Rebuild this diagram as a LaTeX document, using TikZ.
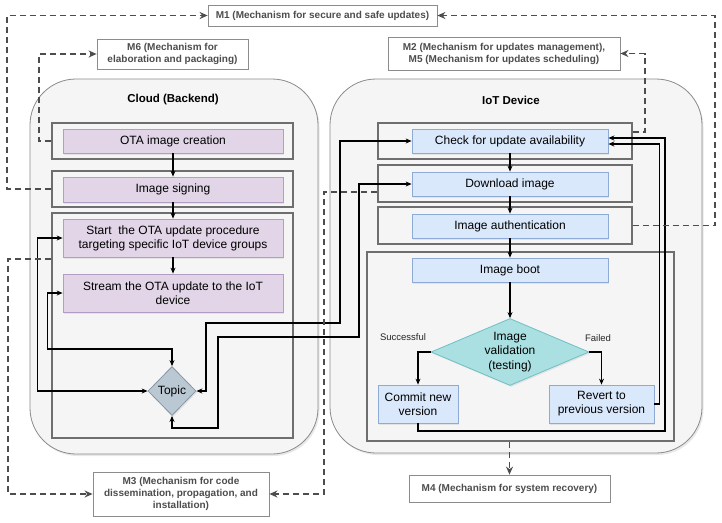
\documentclass[tikz,border=0pt]{standalone}
\usepackage{fontspec}
\setmainfont{Liberation Sans}
\usetikzlibrary{arrows.meta,shapes.geometric,shadows,calc}
\definecolor{cBg}{HTML}{F5F5F5}
\definecolor{cBorder}{HTML}{8A8A8A}
\definecolor{gBorder}{HTML}{6E6E6E}
\definecolor{pFill}{HTML}{E1D5E7}
\definecolor{pStroke}{HTML}{B39DC2}
\definecolor{bFill}{HTML}{DAE8FC}
\definecolor{bStroke}{HTML}{8EABD6}
\definecolor{tFill}{HTML}{BAC8D3}
\definecolor{tStroke}{HTML}{8595A3}
\definecolor{vFill}{HTML}{ABE0E2}
\definecolor{vStroke}{HTML}{6FBFC3}
\definecolor{mBorder}{HTML}{8C8C8C}
\definecolor{mText}{HTML}{4D4D4D}
\definecolor{dGray}{HTML}{4D4D4D}
\begin{document}
\begin{tikzpicture}[x=1pt,y=-1pt,
  container/.style={draw=cBorder, fill=cBg, rounded corners=46pt, line width=0.8pt,
    drop shadow={opacity=0.18, shadow xshift=1.5pt, shadow yshift=-2pt}},
  grp/.style={draw=gBorder, line width=1.7pt, inner sep=0},
  pbox/.style={draw=pStroke, fill=pFill, line width=0.8pt, font=\fontsize{12}{14}\selectfont,
    align=center, inner sep=0,
    drop shadow={opacity=0.15, shadow xshift=1.2pt, shadow yshift=-1.5pt}},
  bbox/.style={draw=bStroke, fill=bFill, line width=0.8pt, font=\fontsize{12}{14}\selectfont,
    align=center, inner sep=0,
    drop shadow={opacity=0.15, shadow xshift=1.2pt, shadow yshift=-1.5pt}},
  mech/.style={draw=mBorder, fill=white, line width=0.8pt, font=\bfseries\fontsize{10}{12}\selectfont,
    text=mText, align=center, inner sep=0},
  ttl/.style={font=\bfseries\fontsize{11.5}{14}\selectfont},
  lbl/.style={font=\fontsize{9.5}{11}\selectfont, text=black!85},
  dsh/.style={draw=dGray, line width=1.8pt, dash pattern=on 6pt off 4pt,
    -{Stealth[length=8pt,width=7pt]}},
  arr/.style={draw=black, line width=1.1pt, -{Stealth[length=6pt,width=5pt]}},
  darr/.style={draw=black, line width=1.1pt, {Stealth[length=6pt,width=5pt]}-{Stealth[length=6pt,width=5pt]}}
]
\useasboundingbox (0,0) rectangle (722,522);

% containers
\node[container, minimum width=288pt, minimum height=375pt] (cloud) at (174,266.5) {};
\node[container, minimum width=372pt, minimum height=374pt] (iot) at (516,266) {};
\node[ttl] (cloudt) at (173,100) {Cloud (Backend)};
\node[ttl] (iott) at (511,100) {IoT Device};

% cloud groups
\node[grp, minimum width=241pt, minimum height=36pt] (co1) at (172.5,141) {};
\node[grp, minimum width=241pt, minimum height=36pt] (co2) at (172.5,189) {};
\node[grp, minimum width=241pt, minimum height=225pt] (co3) at (172.5,325.5) {};

% cloud boxes
\node[pbox, minimum width=220pt, minimum height=24pt] (ota) at (173,141) {OTA image creation};
\node[pbox, minimum width=220pt, minimum height=25pt] (sign) at (173,189.5) {Image signing};
\node[pbox, minimum width=220pt, minimum height=38pt] (start) at (173,238) {Start~~the OTA update procedure\\targeting specific IoT device groups};
\node[pbox, minimum width=220pt, minimum height=38pt] (stream) at (173,293) {Stream the OTA update to the IoT\\device};
\node[diamond, draw=tStroke, fill=tFill, line width=0.8pt, minimum width=48pt, minimum height=49pt,
  inner sep=0, font=\fontsize{12}{14}\selectfont,
  drop shadow={opacity=0.15, shadow xshift=1.2pt, shadow yshift=-1.5pt}] (topic) at (172,391) {Topic};

% iot groups
\node[grp, minimum width=254pt, minimum height=36pt] (io1) at (505,141) {};
\node[grp, minimum width=254pt, minimum height=37pt] (io2) at (505,183.5) {};
\node[grp, minimum width=254pt, minimum height=37pt] (io3) at (505,225.5) {};
\node[grp, minimum width=307pt, minimum height=189pt] (io4) at (520.5,346.5) {};

% iot boxes
\node[bbox, minimum width=196pt, minimum height=24pt] (check) at (510,141) {Check for update availability};
\node[bbox, minimum width=196pt, minimum height=24pt] (download) at (510,184) {Download image};
\node[bbox, minimum width=196pt, minimum height=24pt] (auth) at (510,226) {Image authentication};
\node[bbox, minimum width=196pt, minimum height=24pt] (boot) at (510,270) {Image boot};
\node[diamond, aspect=2.36, draw=vStroke, fill=vFill, line width=0.8pt, minimum width=158pt, minimum height=67pt,
  inner sep=0, align=center, font=\fontsize{12}{14.5}\selectfont,
  drop shadow={opacity=0.15, shadow xshift=1.2pt, shadow yshift=-1.5pt}] (valid) at (510,352) {Image\\validation\\(testing)};
\node[bbox, minimum width=80pt, minimum height=38pt] (commit) at (418,404) {Commit new\\version};
\node[bbox, minimum width=105pt, minimum height=38pt] (revert) at (601.5,404) {Revert to\\previous version};
\node[lbl] (succ) at (403,337) {Successful};
\node[lbl] (fail) at (598,338) {Failed};

% mechanism boxes
\node[mech, minimum width=229pt, minimum height=21pt] (m1) at (322.5,15.5) {M1 (Mechanism for secure and safe updates)};
\node[mech, minimum width=151pt, minimum height=30pt] (m6) at (172.5,54) {M6 (Mechanism for\\elaboration and packaging)};
\node[mech, minimum width=232pt, minimum height=33pt] (m2) at (504,53.5) {M2 (Mechanism for updates management),\\M5 (Mechanism for updates scheduling)};
\node[mech, minimum width=176pt, minimum height=44pt] (m3) at (181,494) {M3 (Mechanism for code\\dissemination, propagation, and\\installation)};
\node[mech, minimum width=201pt, minimum height=27pt] (m4) at (509.5,488.5) {M4 (Mechanism for system recovery)};

% cloud flow
\draw[arr] (ota) -- (sign);
\draw[arr] (sign) -- (start);
\draw[arr] (start) -- (stream);
\draw[darr] (stream.west) -- ++(-15,0) |- (172,349) -- (topic.north);
\draw[darr] (start.west) -- ++(-25,0) |- (topic.west);

% iot flow
\draw[arr] (check) -- (download);
\draw[arr] (download) -- (auth);
\draw[arr] (auth) -- (boot);
\draw[arr] (boot) -- (valid);
\draw[arr] (valid.west) -| (commit.north);
\draw[arr] (valid.east) -| (revert.north);
\draw[arr] (commit.south) |- (665,431) |- ([yshift=3pt]check.east);
\draw[arr] (revert.east) -- ++(5,0) |- ([yshift=-3pt]check.east);

% cross connections
\draw[darr] (check.west) -| (340,323) -| (206,391) -- (topic.east);
\draw[darr] (download.west) -| (359,337) -| (218,428) -| (topic.south);

% dashed mechanism links
\draw[dsh] (co2.west) -- ++(-44,0) |- (m1.west);
\draw[dsh] (co1.west) -- ++(-12,0) |- (m6.west);
\draw[dsh] (io3.east) -- ++(82,0) |- (m1.east);
\draw[dsh] ([yshift=9pt]io1.east) -- ++(12,0) |- (m2.east);
\draw[dsh] ($(co3.north west)+(0,47)$) -- ++(-43,0) |- (m3.west);
\draw[dsh] ($(io2.west)+(0,8.5)$) -- ++(-53,0) |- (m3.east);
\draw[dsh] (m4.north |- io4.south) -- (m4.north);
\end{tikzpicture}
\end{document}
